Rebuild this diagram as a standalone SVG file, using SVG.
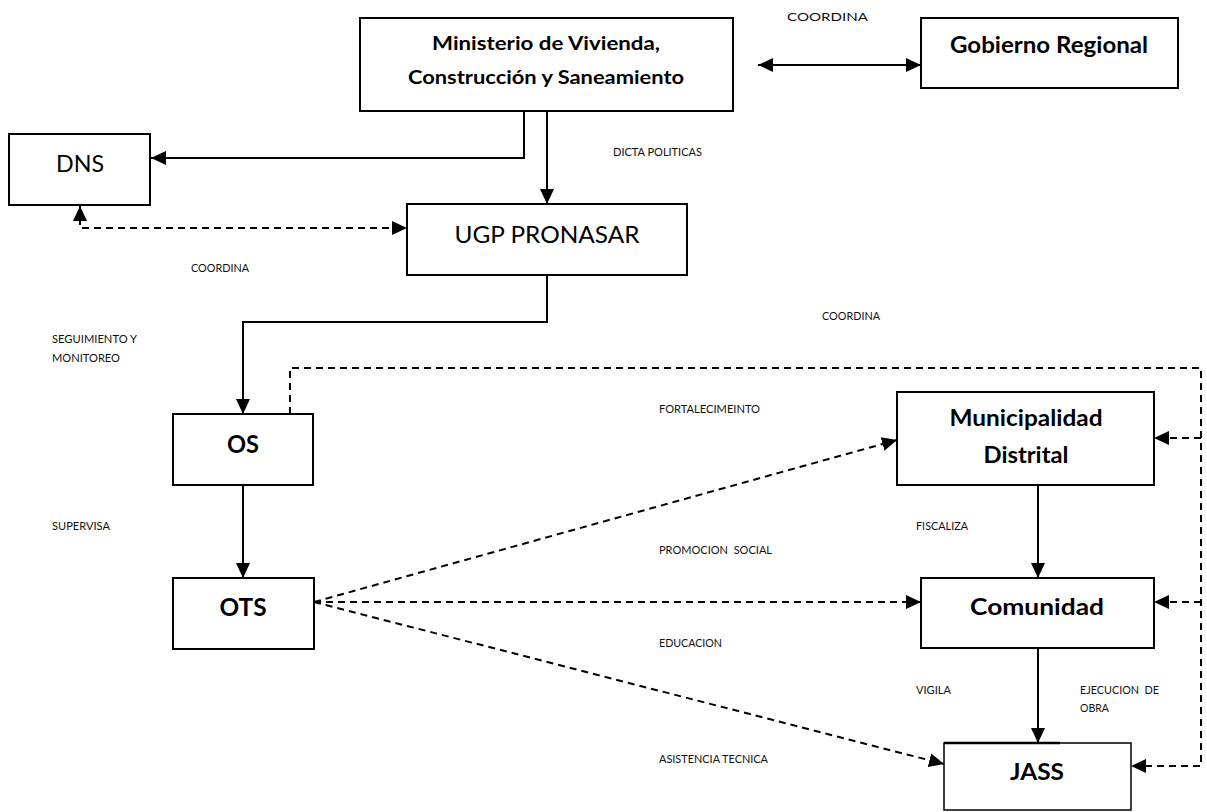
<svg xmlns="http://www.w3.org/2000/svg" width="1207" height="812" viewBox="0 0 1207 812">
<style>
.box{fill:#fff;stroke:#000;stroke-width:2}
.ln{fill:none;stroke:#000;stroke-width:2}
.dl{fill:none;stroke:#000;stroke-width:2;stroke-dasharray:7 5}
.b{font-family:Lato,"Liberation Sans",sans-serif;font-weight:bold;fill:#000;text-anchor:middle}
.r{font-family:Lato,"Liberation Sans",sans-serif;fill:#000;text-anchor:middle}
.s{font-family:Lato,"Liberation Sans",sans-serif;font-size:11.5px;fill:#111}
</style>
<defs>
<marker id="ah" markerUnits="userSpaceOnUse" markerWidth="16" markerHeight="16" viewBox="0 0 16 16" refX="15" refY="8" orient="auto-start-reverse">
<path d="M0,1 L15,8 L0,15 Z" fill="#000"/>
</marker>
</defs>
<rect width="1207" height="812" fill="#fff"/>
<g id="connectors">
<path class="ln" d="M758,65 H921" marker-start="url(#ah)" marker-end="url(#ah)"/>
<path class="ln" d="M524,111 V158 H151" marker-end="url(#ah)"/>
<path class="ln" d="M547,111 V204" marker-end="url(#ah)"/>
<path class="dl" d="M80,206 V228 H407" marker-start="url(#ah)" marker-end="url(#ah)"/>
<path class="ln" d="M547,275 V322 H243 V414" marker-end="url(#ah)"/>
<path class="ln" d="M243,485 V578" marker-end="url(#ah)"/>
<path class="dl" d="M290,414 V368 H1201 V766 H1131" marker-end="url(#ah)"/>
<path class="dl" d="M1201,438 H1154" marker-end="url(#ah)"/>
<path class="dl" d="M1201,602 H1154" marker-end="url(#ah)"/>
<path class="dl" d="M314,602 L897,440" marker-end="url(#ah)"/>
<path class="dl" d="M314,602 H921" marker-end="url(#ah)"/>
<path class="dl" d="M314,602 L944,764" marker-end="url(#ah)"/>
<path class="ln" d="M1038,485 V578" marker-end="url(#ah)"/>
<path class="ln" d="M1038,648 V743" marker-end="url(#ah)"/>
</g>
<g id="ministerio">
<rect class="box" x="360" y="18" width="373" height="93"/>
<text class="b" x="546" y="50" font-size="18.5" textLength="228" lengthAdjust="spacingAndGlyphs">Ministerio de Vivienda,</text>
<text class="b" x="546" y="84" font-size="18.5" textLength="276" lengthAdjust="spacingAndGlyphs">Construcción y Saneamiento</text>
</g>
<g id="gobierno">
<rect class="box" x="921" y="18" width="257" height="70"/>
<text class="b" x="1049" y="53" font-size="23" textLength="198" lengthAdjust="spacingAndGlyphs">Gobierno Regional</text>
</g>
<g id="dns">
<rect class="box" x="9" y="134" width="141" height="71"/>
<text class="r" x="80" y="172" font-size="24" textLength="48" lengthAdjust="spacingAndGlyphs">DNS</text>
</g>
<g id="ugp">
<rect class="box" x="407" y="204" width="280" height="71"/>
<text class="r" x="547" y="243" font-size="24" textLength="185" lengthAdjust="spacingAndGlyphs">UGP PRONASAR</text>
</g>
<g id="os">
<rect class="box" x="173" y="414" width="140" height="71"/>
<text class="b" x="243" y="453" font-size="25" textLength="32" lengthAdjust="spacingAndGlyphs">OS</text>
</g>
<g id="ots">
<rect class="box" x="173" y="578" width="141" height="71"/>
<text class="b" x="243" y="616" font-size="25" textLength="47" lengthAdjust="spacingAndGlyphs">OTS</text>
</g>
<g id="municipalidad">
<rect class="box" x="897" y="392" width="257" height="93"/>
<text class="b" x="1026" y="426" font-size="23" textLength="153" lengthAdjust="spacingAndGlyphs">Municipalidad</text>
<text class="b" x="1026" y="463" font-size="23" textLength="85" lengthAdjust="spacingAndGlyphs">Distrital</text>
</g>
<g id="comunidad">
<rect class="box" x="921" y="578" width="233" height="70"/>
<text class="b" x="1037" y="615" font-size="23" textLength="134" lengthAdjust="spacingAndGlyphs">Comunidad</text>
</g>
<g id="jass">
<rect x="944" y="743" width="187" height="67" fill="#fff" stroke="#000" stroke-width="1.5"/>
<path d="M944,743 H1060" stroke="#000" stroke-width="2.5"/>
<text class="b" x="1037" y="780" font-size="23" textLength="54" lengthAdjust="spacingAndGlyphs">JASS</text>
</g>
<g id="labels">
<text class="s" x="787" y="21" font-size="15" textLength="81" lengthAdjust="spacingAndGlyphs">COORDINA</text>
<text class="s" x="613" y="156" textLength="89" lengthAdjust="spacingAndGlyphs">DICTA POLITICAS</text>
<text class="s" x="191" y="272" textLength="58" lengthAdjust="spacingAndGlyphs">COORDINA</text>
<text class="s" x="52" y="343" textLength="85" lengthAdjust="spacingAndGlyphs">SEGUIMIENTO Y</text>
<text class="s" x="52" y="362" textLength="68" lengthAdjust="spacingAndGlyphs">MONITOREO</text>
<text class="s" x="822" y="320" textLength="58" lengthAdjust="spacingAndGlyphs">COORDINA</text>
<text class="s" x="659" y="413" textLength="101" lengthAdjust="spacingAndGlyphs">FORTALECIMEINTO</text>
<text class="s" x="52" y="530" textLength="58" lengthAdjust="spacingAndGlyphs">SUPERVISA</text>
<text class="s" x="916" y="530" textLength="52" lengthAdjust="spacingAndGlyphs">FISCALIZA</text>
<text class="s" x="659" y="554" textLength="113" lengthAdjust="spacingAndGlyphs" xml:space="preserve">PROMOCION  SOCIAL</text>
<text class="s" x="659" y="647" textLength="63" lengthAdjust="spacingAndGlyphs">EDUCACION</text>
<text class="s" x="916" y="694" textLength="35" lengthAdjust="spacingAndGlyphs">VIGILA</text>
<text class="s" x="1080" y="694" textLength="79" lengthAdjust="spacingAndGlyphs" xml:space="preserve">EJECUCION  DE</text>
<text class="s" x="1080" y="712" textLength="29" lengthAdjust="spacingAndGlyphs">OBRA</text>
<text class="s" x="659" y="763" textLength="109" lengthAdjust="spacingAndGlyphs">ASISTENCIA TECNICA</text>
</g>
</svg>
